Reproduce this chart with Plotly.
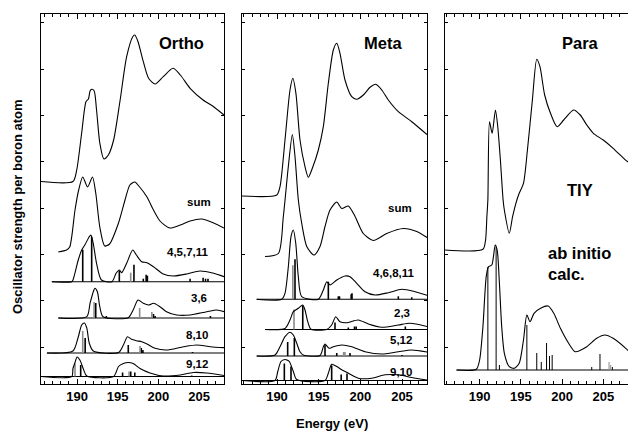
import plotly.graph_objects as go

# ---------------- DATA (energies in eV, heights in arbitrary units above each curve's baseline) -------------
# Ortho panel
ortho_exp_E = [185.57, 189.5, 189.96, 190.57, 191.1, 191.4, 191.6, 191.8, 192.1, 192.4, 192.8, 193.3, 193.85, 194.5,
               195.3, 196.1, 196.85, 197.1, 197.5, 198.15, 198.8, 199.6, 200.6, 201.8, 202.7, 203.9, 205.5, 206.8,
               208.07]
ortho_exp_y = [0, 0, 11.5, 48.5, 79.8, 82.5, 90.5, 92.2, 90.8, 71.5, 38.5, 22.5, 26.5, 41.5,
               81.5, 124.8, 144.8, 146.5, 139.8, 119.8, 103.2, 97.5, 104.8, 113.2, 106.5, 93.2, 81.5, 74.8, 66.5]

ortho_sum_E = [187.7, 188.7, 189.1, 189.75, 190.2, 190.7, 191.3, 191.9, 192.3, 192.8, 193.4, 194.0, 195.1, 195.9,
               196.5, 197.1, 197.7, 198.6, 199.4, 200.2, 201.4, 202.7, 203.9, 205.3, 206.8, 208.07]
ortho_sum_y = [0, 2, 5, 42, 62, 75, 65, 75, 59, 25, 6, 8, 29, 52, 67, 70, 65, 55, 42, 31, 24, 27, 31, 33, 29, 24]

ortho_a_E = [186.9, 189.35, 189.5, 190.15, 190.57, 190.98, 191.5, 191.7, 191.99, 192.4, 193.0, 194.3, 194.8, 195.2,
             195.5, 196.1, 196.85, 197.3, 197.95, 198.6, 199.4, 200.6, 201.85, 203.5, 205.1, 206.8, 208.07]
ortho_a_y = [0, 0, 1.7, 21.7, 31.7, 37, 45, 46.7, 38.4, 18.4, 1.7, 0, 8.4, 11.7,
             9, 18.4, 31.7, 26.7, 20, 19, 15, 7.7, 5.7, 7.7, 10.7, 8.4, 5]
ortho_a_stick_E = [190.7, 191.8, 195.2, 196.6, 197.0, 198.15, 198.5, 198.65, 203.9, 205.5, 205.8, 206.1]
ortho_a_stick_h = [32, 45, 11, 9, 17, 3, 7, 6, 3, 4, 3, 3]
ortho_a_stick_gray = [0, 0, 0, 1, 0, 0, 0, 0, 0, 0, 0, 0]

ortho_b_E = [187.7, 191.2, 191.6, 192.0, 192.2, 192.5, 192.8, 193.2, 196.3, 196.9, 197.5, 198.15, 198.8, 199.4,
             200.2, 201.0, 202.25, 203.9, 205.95, 207.2, 208.07]
ortho_b_y = [0, 1.3, 14.7, 26.3, 29.7, 26.3, 11.3, 1.3, 0.3, 8, 18, 14.7, 13, 14.7, 11.3, 6.3, 3, 3, 6.3, 8, 6.3]
ortho_b_stick_E = [192.1, 192.3, 193.6, 197.7, 199.2, 199.4, 199.6, 206.4]
ortho_b_stick_h = [16, 15, 2, 10, 6, 4, 2, 2]
ortho_b_stick_gray = [1, 0, 0, 1, 1, 0, 0, 0]

ortho_c_E = [186.3, 189.5, 190.15, 190.57, 190.9, 191.2, 191.5, 192.0, 195.1, 195.7, 196.2, 196.7, 197.3, 197.95,
             198.6, 199.6, 201.0, 203.1, 204.7, 206.4, 208.07]
ortho_c_y = [0, 2, 16, 28, 30, 25, 10, 2, 0.5, 8, 16.3, 13.7, 12.3, 11.3, 9, 4.7, 3, 6.3, 8, 6.3, 5.3]
ortho_c_stick_E = [190.7, 191.0, 196.3, 197.75, 197.9, 198.1, 204.2]
ortho_c_stick_h = [22, 15, 8, 7, 5, 3, 1]
ortho_c_stick_gray = [1, 0, 0, 1, 0, 0, 0]

ortho_d_E = [185.57, 189.35, 189.5, 189.75, 190.0, 190.35, 190.8, 191.2, 194.5, 195.1, 195.7, 196.3, 196.9, 197.75,
             198.97, 200.6, 202.7, 204.3, 205.95, 208.07]
ortho_d_y = [0, 0, 8, 14, 19.5, 16.5, 7, 0.5, 0, 10, 13, 14, 13, 8, 3.5, 0.5, 1.5, 4, 3.5, 1]
ortho_d_stick_E = [189.75, 190.45, 195.6, 196.4, 196.6, 197.1, 204.1]
ortho_d_stick_h = [13, 11.5, 4, 5, 5, 4, 1]
ortho_d_stick_gray = [1, 0, 0, 1, 0, 0, 0]

# Meta panel
meta_exp_E = [185.8, 189.97, 190.36, 190.96, 191.56, 191.9, 192.27, 192.76, 193.36, 193.76, 194.24, 194.96, 195.56,
              196.16, 196.76, 197.17, 197.56, 198.16, 198.97, 199.57, 200.36, 201.17, 201.85, 202.57, 203.36, 204.56,
              206.17, 208.0]
meta_exp_y = [0, 1, 9.3, 56, 106, 117.7, 102.7, 56, 29.3, 18.7, 27.7, 46, 69.3, 112.7, 146, 152.7, 142.7, 116,
              99.3, 96.7, 101, 108.7, 111.7, 106, 96, 84.3, 74.3, 61.5]

meta_sum_E = [188.56, 190.16, 190.76, 191.36, 191.84, 192.16, 192.56, 192.97, 193.57, 194.44, 195.16, 195.76, 196.36,
              197.17, 197.77, 198.56, 199.37, 200.36, 201.56, 203.16, 205.16, 206.77, 208.0]
meta_sum_y = [0, 3, 40, 90, 122, 100, 56.5, 33, 10, 1.5, 10, 30, 46.5, 54.5, 48, 50.5, 40, 23, 16, 23, 28, 25, 19]

meta_a_E = [187.56, 190.56, 190.96, 191.36, 191.68, 191.96, 192.25, 192.56, 192.97, 194.96, 195.56, 195.97, 196.36,
            197.17, 198.16, 198.76, 199.57, 200.56, 201.77, 203.36, 204.97, 206.57, 208.0]
meta_a_y = [0, 0, 6, 32.6, 62.6, 69.3, 56, 22.6, 2.6, 0, 9.3, 17.6, 14.3, 19.3, 23.3, 22.6, 16, 7.6, 4.3, 6.6, 10,
            7.6, 4]
meta_a_stick_E = [191.9, 192.16, 196.16, 197.36, 197.5, 198.9, 199.0, 204.56, 206.17]
meta_a_stick_h = [34, 40, 17.6, 3, 3, 5, 6, 3, 2]
meta_a_stick_gray = [1, 0, 0, 0, 0, 0, 0, 0, 0]

meta_b_E = [188.56, 190.96, 191.56, 191.96, 192.56, 193.09, 193.36, 193.69, 194.08, 195.97, 196.56, 197.05, 197.56,
            198.37, 199.76, 200.96, 202.57, 204.56, 205.97, 208.0]
meta_b_y = [0, 1, 9.5, 17.8, 21.2, 24.5, 19.5, 7.8, 0.2, 0, 4.5, 12.8, 7.8, 6.8, 9.5, 5.5, 2.2, 4.5, 6.2, 3]
meta_b_stick_E = [192.04, 193.09, 196.96, 198.56, 199.3, 199.5, 205.4]
meta_b_stick_h = [20, 24, 7, 2, 3, 3, 3]
meta_b_stick_gray = [1, 0, 0, 0, 0, 0, 0]

meta_c_E = [187.56, 189.76, 190.36, 190.96, 191.56, 191.96, 192.37, 192.76, 193.16, 195.16, 195.56, 195.76, 196.24,
            196.76, 197.77, 198.97, 200.56, 202.57, 204.56, 206.17, 208.0]
meta_c_y = [0, 1, 9.3, 19.3, 23.8, 21, 12.7, 4.3, 1, 0.5, 9.3, 12, 7.7, 9.3, 11, 9.3, 4.3, 2, 4.3, 6, 4]
meta_c_stick_E = [191.28, 192.08, 195.76, 197.17, 198.0, 198.15, 198.76, 205.0]
meta_c_stick_h = [14, 18, 11, 3, 4, 4, 3, 1]
meta_c_stick_gray = [0, 0, 0, 0, 1, 1, 0, 0]

meta_d_E = [185.8, 189.76, 190.09, 190.48, 190.96, 191.2, 191.48, 191.96, 192.37, 195.76, 196.16, 196.56, 197.17,
            197.77, 198.56, 199.76, 201.37, 202.97, 204.56, 206.17, 208.0]
meta_d_y = [0, 0, 9, 19, 21, 20.5, 19, 9, 1, 0, 7.3, 16.3, 14, 10.7, 7.3, 2.3, 2.3, 5.7, 5.7, 3, 0.5]
meta_d_stick_E = [190.88, 191.68, 196.56, 197.7, 198.4]
meta_d_stick_h = [17, 14, 15, 6, 7]
meta_d_stick_gray = [0, 0, 0, 0, 0]

# Para panel
para_tiy_E = [185.8, 190.4, 190.72, 190.88, 191.0, 191.2, 191.52, 191.92, 192.2, 192.52, 192.85, 193.0, 193.6, 194.0,
              194.4, 194.8, 195.32, 195.8, 196.4, 196.93, 197.32, 197.89, 198.6, 199.4, 200.2, 201.4, 202.21, 203.0,
              203.8, 205.0, 206.2, 207.6, 208.0]
para_tiy_y = [0, 0.7, 10, 33.3, 50, 128.3, 116.7, 140, 123.3, 90, 50, 40, 16.7, 33.3, 46.7, 56.7, 66.7, 100, 150,
              190.7, 183.3, 155, 136.7, 123.3, 130, 140, 135, 125, 116.7, 110, 101.7, 90.7, 88]

para_calc_E = [187.2, 189.6, 190.0, 190.4, 190.8, 191.08, 191.48, 191.89, 192.13, 192.4, 192.68, 193.0, 193.6, 194.2,
               194.8, 195.32, 195.73, 196.12, 196.6, 197.4, 198.32, 199.0, 199.8, 200.8, 201.6, 203.0, 204.2, 205.2,
               206.2, 207.73, 208.0]
para_calc_y = [0, 0.7, 10, 43.3, 93.3, 103.3, 105, 125, 120, 86.7, 43.3, 16.7, 3.3, 1.7, 6.7, 30, 55, 48.3, 56.7,
               61.7, 64, 56.7, 41.7, 26.7, 18.3, 23.3, 31.7, 35, 31.7, 21.7, 19.5]
para_stick_E = [191.0, 192.0, 192.4, 195.73, 196.93, 197.48, 198.12, 198.48, 198.8, 203.6, 204.6, 205.7, 205.9, 206.1]
para_stick_h = [103, 123, 5, 45, 17, 8, 27, 14, 15, 3, 16, 8, 5, 3]
para_stick_gray = [0, 0, 0, 0, 0, 0, 0, 0, 0, 0, 0, 1, 1, 0]

# Labels
panel_titles = ["Ortho", "Meta", "Para"]
ortho_labels = ["sum", "4,5,7,11", "3,6", "8,10", "9,12"]
meta_labels = ["sum", "4,6,8,11", "2,3", "5,12", "9,10"]
para_labels = ["TIY", "ab initio<br>calc."]
x_title = "Energy (eV)"
y_title = "Oscillator strength per boron atom"
major_ticks = [190, 195, 200, 205]

# ---------------- LAYOUT / STYLE (not data) ----------------
W, H = 628, 434
PX_TOP, PX_BOT = 14, 384
YMAX = PX_BOT - PX_TOP
FONT = "Liberation Sans, Arial, sans-serif"

panels = [
    dict(xr=[185.57, 208.07], x0=41, x1=224),
    dict(xr=[185.8, 208.0], x0=242, x1=427),
    dict(xr=[185.8, 208.0], x0=445, x1=628),
]
# baselines (in y-axis units = pixels above bottom frame)
ortho_bases = [202.5, 132, 102.3, 66, 31, 7.5]
meta_bases = [188, 127.5, 84.7, 54.5, 28, 3.5]
para_bases = [134, 14]

fig = go.Figure()


def ax(i):
    return ("x" if i == 0 else f"x{i+1}"), ("y" if i == 0 else f"y{i+1}")


def curve(i, E, rel, base, width=1.1):
    xa, ya = ax(i)
    fig.add_trace(go.Scatter(x=E, y=[base + v for v in rel], mode="lines",
                             line=dict(color="black", width=width, shape="spline", smoothing=0.7),
                             xaxis=xa, yaxis=ya, hoverinfo="skip"))


def baseline(i, E, base, xend):
    xa, ya = ax(i)
    fig.add_trace(go.Scatter(x=[E[0], xend], y=[base, base], mode="lines",
                             line=dict(color="black", width=1.1), xaxis=xa, yaxis=ya, hoverinfo="skip"))


def sticks(i, E, h, gray, base, width=1.6):
    xa, ya = ax(i)
    for g, col in ((0, "black"), (1, "#8a8a8a")):
        xs, ys = [], []
        for e, v, gg in zip(E, h, gray):
            if gg == g:
                xs += [e, e, None]
                ys += [base, base + v, None]
        if xs:
            fig.add_trace(go.Scatter(x=xs, y=ys, mode="lines", line=dict(color=col, width=width),
                                     xaxis=xa, yaxis=ya, hoverinfo="skip"))


# Ortho
curve(0, ortho_exp_E, ortho_exp_y, ortho_bases[0])
curve(0, ortho_sum_E, ortho_sum_y, ortho_bases[1])
for (E, Y, SE, SH, SG), b in zip([
        (ortho_a_E, ortho_a_y, ortho_a_stick_E, ortho_a_stick_h, ortho_a_stick_gray),
        (ortho_b_E, ortho_b_y, ortho_b_stick_E, ortho_b_stick_h, ortho_b_stick_gray),
        (ortho_c_E, ortho_c_y, ortho_c_stick_E, ortho_c_stick_h, ortho_c_stick_gray),
        (ortho_d_E, ortho_d_y, ortho_d_stick_E, ortho_d_stick_h, ortho_d_stick_gray)], ortho_bases[2:]):
    baseline(0, E, b, panels[0]["xr"][1])
    sticks(0, SE, SH, SG, b)
    curve(0, E, Y, b)

# Meta
curve(1, meta_exp_E, meta_exp_y, meta_bases[0])
curve(1, meta_sum_E, meta_sum_y, meta_bases[1])
for (E, Y, SE, SH, SG), b in zip([
        (meta_a_E, meta_a_y, meta_a_stick_E, meta_a_stick_h, meta_a_stick_gray),
        (meta_b_E, meta_b_y, meta_b_stick_E, meta_b_stick_h, meta_b_stick_gray),
        (meta_c_E, meta_c_y, meta_c_stick_E, meta_c_stick_h, meta_c_stick_gray),
        (meta_d_E, meta_d_y, meta_d_stick_E, meta_d_stick_h, meta_d_stick_gray)], meta_bases[2:]):
    baseline(1, E, b, panels[1]["xr"][1])
    sticks(1, SE, SH, SG, b)
    curve(1, E, Y, b)

# Para
curve(2, para_tiy_E, para_tiy_y, para_bases[0])
baseline(2, para_calc_E, para_bases[1], panels[2]["xr"][1])
sticks(2, para_stick_E, para_stick_h, para_stick_gray, para_bases[1], width=1.0)
curve(2, para_calc_E, para_calc_y, para_bases[1])

layout = dict(width=W, height=H, margin=dict(l=0, r=0, t=0, b=0), showlegend=False,
              plot_bgcolor="white", paper_bgcolor="white", font=dict(family=FONT, color="black"))
ydom = [1 - PX_BOT / H, 1 - PX_TOP / H]
for i, p in enumerate(panels):
    sx = "" if i == 0 else str(i + 1)
    layout["xaxis" + sx] = dict(
        domain=[p["x0"] / W, min(p["x1"] / W, 1.0)], range=p["xr"], anchor="y" + sx,
        tickmode="linear", tick0=major_ticks[0], dtick=major_ticks[1] - major_ticks[0],
        ticks="inside", ticklen=5, tickwidth=1, tickcolor="black",
        minor=dict(dtick=1, tick0=190, ticks="inside", ticklen=3, tickcolor="black", tickwidth=1),
        showline=True, linecolor="black", linewidth=1, mirror="ticks",
        showgrid=False, zeroline=False,
        tickfont=dict(family=FONT, size=13, color="black", weight="bold"))
    layout["yaxis" + sx] = dict(
        domain=ydom, range=[0, YMAX], anchor="x" + sx,
        tickmode="linear", tick0=37, dtick=46.3, ticks="inside", ticklen=3, tickcolor="black",
        showticklabels=False, showline=True, linecolor="black", linewidth=1,
        mirror=("ticks" if i < 2 else False),
        showgrid=False, zeroline=False)
fig.update_layout(**layout)

ann = []
big = dict(family=FONT, size=16.5, color="black", weight="bold")
small = dict(family=FONT, size=11.5, color="black", weight="bold")
title_pos = [(202.8, 341), (202.67, 341), (202.19, 341)]
for i, (t, (x, y)) in enumerate(zip(panel_titles, title_pos)):
    xa, ya = ax(i)
    ann.append(dict(x=x, y=y, xref=xa, yref=ya, text=t, showarrow=False, font=big))
ortho_lpos = [(205.0, 182), (203.6, 132), (205.0, 86), (204.8, 49), (204.8, 20)]
for t, (x, y) in zip(ortho_labels, ortho_lpos):
    ann.append(dict(x=x, y=y, xref="x", yref="y", text=t, showarrow=False, font=small))
meta_lpos = [(204.77, 176), (204.0, 111), (205.0, 71), (204.83, 44), (204.83, 12)]
for t, (x, y) in zip(meta_labels, meta_lpos):
    ann.append(dict(x=x, y=y, xref="x2", yref="y2", text=t, showarrow=False, font=small))
ann.append(dict(x=202.13, y=194, xref="x3", yref="y3", text=para_labels[0], showarrow=False, font=big))
ann.append(dict(x=198.0, y=121, xref="x3", yref="y3", text=para_labels[1], showarrow=False, font=big,
                xanchor="left", align="left"))
ann.append(dict(x=332 / W, y=1 - 423 / H, xref="paper", yref="paper", text=x_title, showarrow=False,
                xanchor="center", yanchor="middle",
                font=dict(family=FONT, size=13, color="black", weight="bold")))
ann.append(dict(x=17 / W, y=1 - 207 / H, xref="paper", yref="paper", text=y_title, showarrow=False,
                xanchor="center", yanchor="middle",
                textangle=-90, font=dict(family=FONT, size=13, color="black", weight="bold")))
fig.update_layout(annotations=ann)

fig.write_html("out.html")
